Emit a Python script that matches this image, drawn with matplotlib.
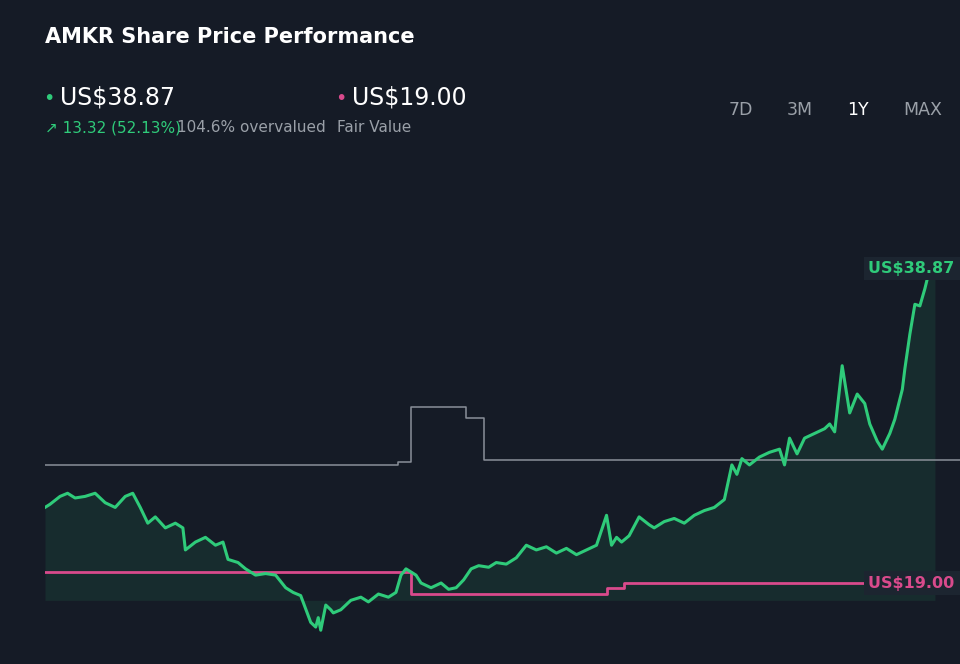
import matplotlib
matplotlib.use("Agg")
import matplotlib.pyplot as plt
import numpy as np

# price series (day of year, price)
days = [0,2,6,9,12,16,20,24,28,32,35,38,41,44,48,52,55,56,60,64,68,71,73,77,80,84,88,92,96,99,102,106,108,109,110,112,114,115,118,122,126,129,133,137,140,142,144,148,150,154,158,161,164,167,170,173,177,180,184,188,192,196,200,204,208,212,216,220,224,226,228,230,233,237,241,243,247,251,255,259,263,267,271,274,276,278,281,285,289,293,295,297,300,303,307,311,313,315,318,321,324,327,329,332,334,337,339,342,343,345,347,349,351,353,355]
price = [23.8,24.0,24.5,24.7,24.4,24.5,24.7,24.1,23.8,24.5,24.7,23.8,22.8,23.2,22.5,22.8,22.5,21.1,21.6,21.9,21.4,21.6,20.5,20.3,19.9,19.5,19.6,19.5,18.7,18.4,18.2,16.5,16.2,16.8,16.0,17.6,17.3,17.1,17.3,17.9,18.1,17.8,18.3,18.1,18.4,19.5,19.9,19.5,19.0,18.7,19.0,18.6,18.7,19.2,19.9,20.1,20.0,20.3,20.2,20.6,21.4,21.1,21.3,20.9,21.2,20.8,21.1,21.4,23.3,21.4,21.9,21.6,22.0,23.2,22.7,22.5,22.9,23.1,22.8,23.3,23.6,23.8,24.3,26.5,25.9,26.9,26.5,27.0,27.3,27.5,26.5,28.2,27.2,28.2,28.5,28.8,29.1,28.6,32.8,29.8,31.0,30.4,29.1,28.0,27.5,28.5,29.4,31.3,32.6,34.8,36.7,36.6,37.7,39.0,39.3]
# fair value steps
fv_days = [0,146,146,224,224,231,231,365]
fv_vals = [19.7,19.7,18.3,18.3,18.7,18.7,19.0,19.0]
# gray reference steps
gr_days = [0,141,141,146,146,168,168,175,175,365]
gr_vals = [26.5,26.5,26.7,26.7,30.2,30.2,29.5,29.5,26.8,26.8]

BG = "#151b26"
GREEN = "#2fcb7a"
PINK = "#d94a8c"

fig = plt.figure(figsize=(9.6, 6.64), dpi=100, facecolor=BG)
ax = fig.add_axes([45/960, 24/664, 915/960, 490/664])
ax.set_facecolor(BG)
ax.set_xlim(0, 365)
ax.set_ylim(15.38, 46.5)
ax.axis("off")

ax.plot(gr_days, gr_vals, color="#8a9099", lw=1.1)
ax.plot(fv_days, fv_vals, color=PINK, lw=2)
ax.fill_between(days, price, 17.9, color=GREEN, alpha=0.10, lw=0)
ax.plot(days, price, color=GREEN, lw=2.2)

ax.text(365, 38.87 + 0.1, "US$38.87 ", color=GREEN, fontsize=11.5, fontweight="bold",
        ha="right", va="center", bbox=dict(facecolor="#1c2530", edgecolor="none", pad=3))
ax.text(365, 19.0, "US$19.00 ", color=PINK, fontsize=11.5, fontweight="bold",
        ha="right", va="center", bbox=dict(facecolor="#1c2530", edgecolor="none", pad=3))

def t(x, y, s, **kw):
    fig.text(x/960, 1 - y/664, s, va="center", **kw)

t(45, 37, "AMKR Share Price Performance", color="white", fontsize=15, fontweight="bold")
t(43, 98, "•", color=GREEN, fontsize=14)
t(60, 98, "US$38.87", color="white", fontsize=17)
t(335, 98, "•", color=PINK, fontsize=14)
t(352, 98, "US$19.00", color="white", fontsize=17)
t(45, 128, "↗ 13.32 (52.13%)", color=GREEN, fontsize=11)
t(177, 128, "104.6% overvalued", color="#9aa0a8", fontsize=11)
t(337, 128, "Fair Value", color="#9aa0a8", fontsize=11)
for x, s, c in [(741, "7D", "#9aa0a8"), (800, "3M", "#9aa0a8"), (858, "1Y", "white"), (923, "MAX", "#9aa0a8")]:
    t(x, 110, s, color=c, fontsize=12.5, ha="center")

fig.savefig("out.png", dpi=100, facecolor=BG)
